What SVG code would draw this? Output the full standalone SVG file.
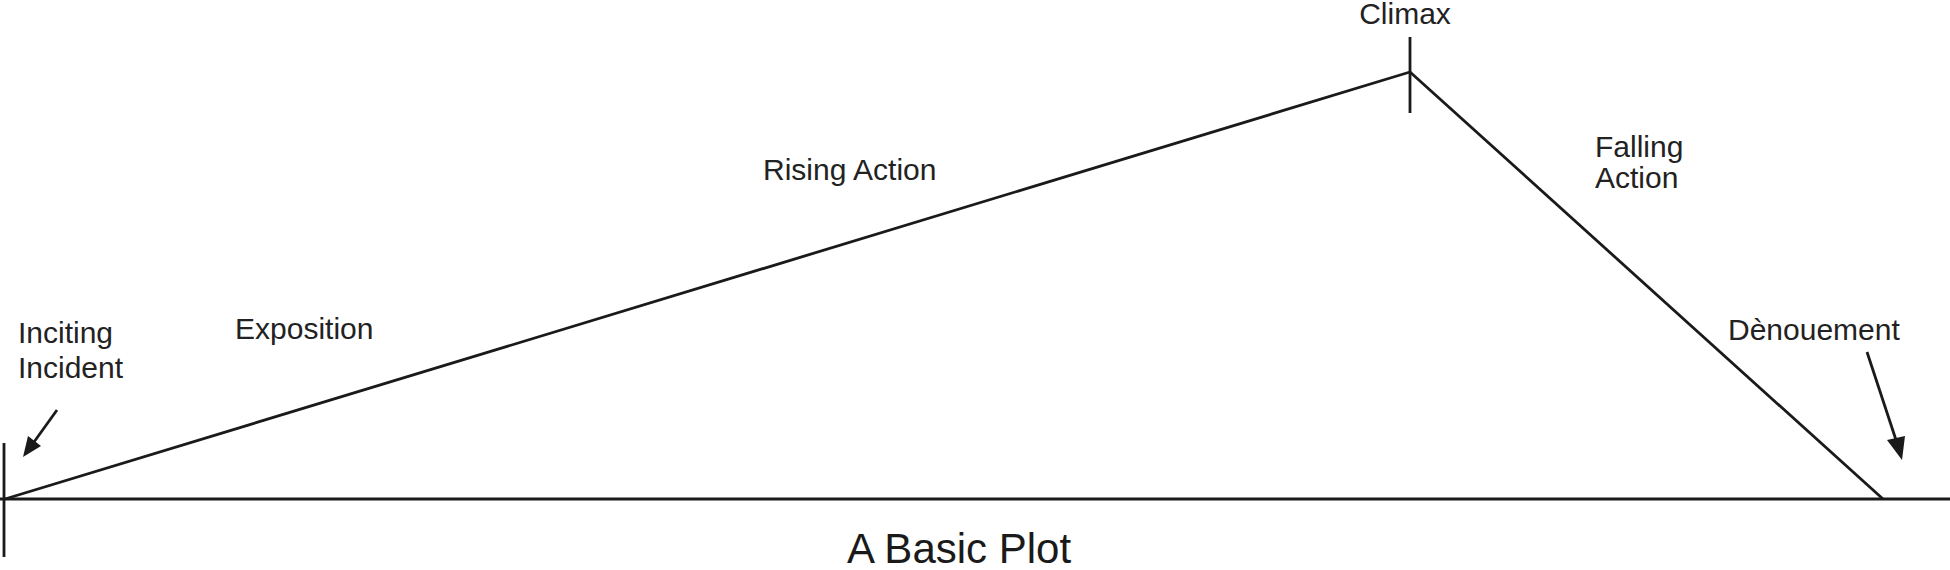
<svg xmlns="http://www.w3.org/2000/svg" width="1950" height="570" viewBox="0 0 1950 570">
<style>
.ln{stroke:#1a1a1a;stroke-width:2.8;fill:none;stroke-linecap:butt}
.lb{font-family:"Liberation Sans",Arial,sans-serif;font-size:30px;fill:#222222}
.tt{font-family:"Liberation Sans",Arial,sans-serif;font-size:42px;fill:#1a1a1a}
.hd{fill:#1a1a1a}
</style>
<rect width="1950" height="570" fill="#ffffff"/>
<g id="connectors">
<line class="ln" x1="0" y1="499" x2="1950" y2="499"/>
<line class="ln" x1="5" y1="499" x2="1410" y2="72"/>
<line class="ln" x1="1410" y1="72" x2="1883" y2="499"/>
<line class="ln" x1="4" y1="443" x2="4" y2="557" stroke-width="3.2"/>
<line class="ln" x1="1410" y1="37" x2="1410" y2="113"/>
<polyline class="ln" points="57,410 34,442"/>
<polygon class="hd" points="23,457 28,436 41,446"/>
<polyline class="ln" points="1867,352 1896,440"/>
<polygon class="hd" points="1902,460 1887,440 1905,436"/>
</g>
<g id="inciting-incident">
<text class="lb" x="18" y="343">Inciting</text>
<text class="lb" x="18" y="378">Incident</text>
</g>
<g id="exposition"><text class="lb" x="235" y="339">Exposition</text></g>
<g id="rising-action"><text class="lb" x="763" y="180">Rising Action</text></g>
<g id="climax"><text class="lb" x="1405" y="24" text-anchor="middle">Climax</text></g>
<g id="falling-action">
<text class="lb" x="1595" y="157">Falling</text>
<text class="lb" x="1595" y="188">Action</text>
</g>
<g id="denouement"><text class="lb" x="1728" y="340">Dènouement</text></g>
<g id="title"><text class="tt" x="847" y="563">A Basic Plot</text></g>
</svg>
